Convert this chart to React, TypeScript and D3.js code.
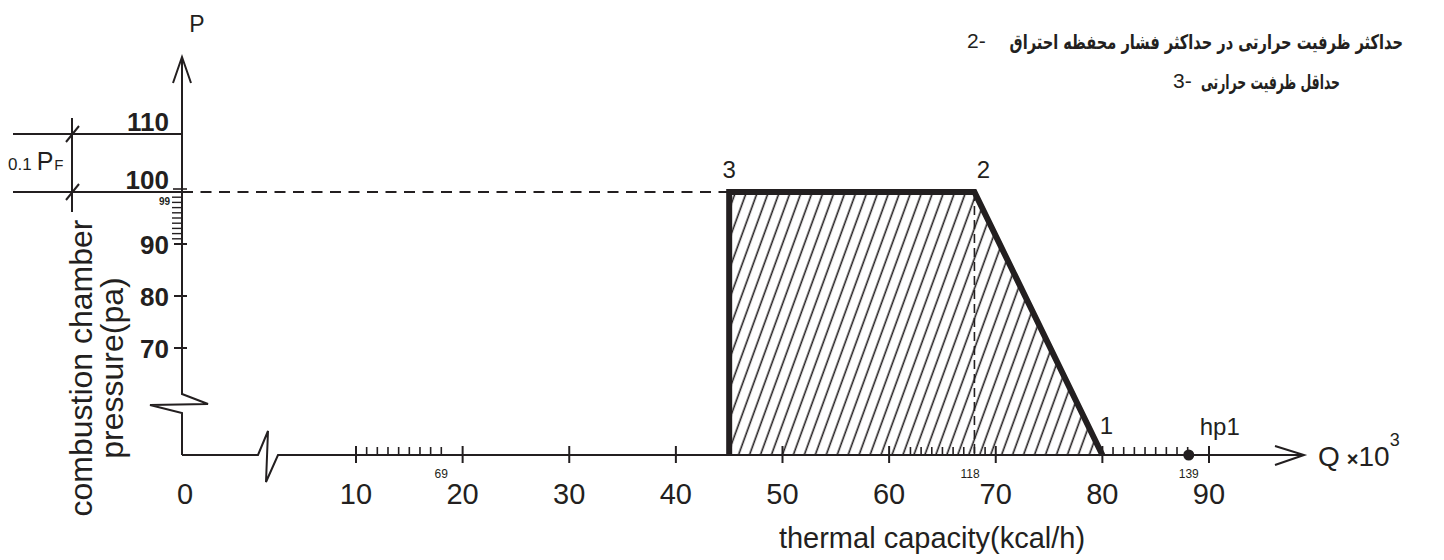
import React from "react";
import * as d3 from "d3";

// ---------- data ----------
const xMajorTicks = [10, 20, 30, 40, 50, 60, 70, 80, 90];
const xMinorTicks = [11, 12, 13, 14, 15, 16, 17, 18, 62, 63, 64, 65, 66, 67, 68, 69, 81, 82, 83, 84, 85, 86, 87, 88];
const xSmallLabels = [
  { q: 18, text: "69" },
  { q: 67.6, text: "118" },
  { q: 88.1, text: "139" },
];
const yMajorTicks = [70, 80, 90, 100, 110];
const yMinorTicks = [91, 92, 93, 94, 95, 96, 97, 98, 99];
const regionQ = [45, 45, 68, 80];
const regionP = [0, 100, 100, 0];
const cornerLabels = [
  { q: 45, p: 100, text: "3" },
  { q: 68, p: 100, text: "2" },
  { q: 80, p: 0, text: "1" },
];
const hp1 = { q: 88.1, p: 0, text: "hp1" };
const notes = [
  { num: "2-", text: "حداکثر ظرفیت حرارتی در حداکثر فشار محفظه احتراق" },
  { num: "3-", text: "حداقل ظرفیت حرارتی" },
];

const INK = "#231f20";
const FONT = "'Liberation Sans', Arial, Helvetica, sans-serif";

export default function App() {
  // broken axes: 0 sits at the axis origin, values continue after the break
  const x = d3.scaleLinear().domain([0, 10, 90]).range([182, 356, 1209]);
  const y = d3.scaleLinear().domain([0, 70, 100, 110]).range([455, 348, 192, 134]);

  const x0 = x(0);
  const yb = y(0);
  const regionPts: [number, number][] = regionQ.map((q, i) => [x(q), y(regionP[i])]);
  const line = d3.line();
  const regionPath = line(regionPts) + "Z";

  const yBreak = 394;
  const xBreak = 258;
  const arrowX = 1304;

  const noteLayout = [
    { numX: 967, textRight: 1403, y: 48, sx: 0.73 },
    { numX: 1173, textRight: 1340, y: 88, sx: 0.62 },
  ];

  return (
    <svg
      width={1444}
      height={560}
      style={{ position: "absolute", left: 0, top: 0, background: "#fff" }}
      fontFamily={FONT}
    >
      <defs>
        <pattern id="hatch" width={10.3} height={10} patternUnits="userSpaceOnUse" patternTransform="rotate(20)">
          <line x1={5} y1={-2} x2={5} y2={12} stroke={INK} strokeWidth={1.6} />
        </pattern>
      </defs>

      {/* hatched region */}
      <path d={regionPath} fill="url(#hatch)" stroke="none" />

      {/* dashed guides */}
      <line x1={x0} y1={y(100)} x2={x(45)} y2={y(100)} stroke={INK} strokeWidth={2} strokeDasharray="11 7.5" />
      <line x1={x(68)} y1={y(100)} x2={x(68)} y2={yb} stroke={INK} strokeWidth={1.6} strokeDasharray="9 5" />

      {/* y axis with break */}
      <path
        d={`M${x0},${57} L${x0},${yBreak} L${x0 + 26},${yBreak + 10} L${x0 - 32},${yBreak + 11} L${x0},${yBreak + 19} L${x0},${yb}`}
        fill="none"
        stroke={INK}
        strokeWidth={2}
        strokeLinejoin="miter"
      />
      <path d={`M${x0 - 9},${83} L${x0},${57} L${x0 + 9},${83}`} fill="none" stroke={INK} strokeWidth={2} />
      <text x={x0 + 15} y={32} fontSize={23} textAnchor="middle" fill={INK}>P</text>

      {/* x axis with break */}
      <path
        d={`M${x0},${yb} L${xBreak},${yb} L${xBreak + 10},${yb - 24} L${xBreak + 8},${yb + 27} L${xBreak + 20},${yb} L${arrowX},${yb}`}
        fill="none"
        stroke={INK}
        strokeWidth={2}
      />
      <path d={`M${arrowX - 29},${yb - 9} L${arrowX},${yb} L${arrowX - 29},${yb + 10}`} fill="none" stroke={INK} strokeWidth={2} />
      <text x={1318} y={466} fontSize={28} fill={INK}>
        Q
        <tspan dx={7} fontSize={20} fontWeight="bold">×</tspan>
        <tspan fontSize={28}>10</tspan>
        <tspan fontSize={18} dy={-20}>3</tspan>
      </text>

      {/* x ticks */}
      {xMajorTicks.map((v) => (
        <line key={"xt" + v} x1={x(v)} x2={x(v)} y1={yb - 9} y2={yb + 8} stroke={INK} strokeWidth={2} />
      ))}
      {xMinorTicks.map((v) => (
        <line key={"xm" + v} x1={x(v)} x2={x(v)} y1={yb - 8} y2={yb} stroke={INK} strokeWidth={1.6} />
      ))}
      {[0, ...xMajorTicks].map((v) => (
        <text key={"xl" + v} x={x(v) + (v === 0 ? 3 : 0)} y={504} fontSize={29} textAnchor="middle" fill={INK}>
          {v}
        </text>
      ))}
      {xSmallLabels.map((d) => (
        <text key={"xs" + d.text} x={x(d.q)} y={478} fontSize={12} textAnchor="middle" fill={INK}>
          {d.text}
        </text>
      ))}
      <text x={932} y={548} fontSize={29} textAnchor="middle" fill={INK}>thermal capacity(kcal/h)</text>

      {/* y ticks */}
      {yMajorTicks.filter((v) => v < 100).map((v) => (
        <line key={"yt" + v} x1={x0 - 8} x2={x0 + 5} y1={y(v)} y2={y(v)} stroke={INK} strokeWidth={2} />
      ))}
      <line x1={x0 - 9} x2={x0 + 5} y1={y(100) - 3} y2={y(100) - 3} stroke={INK} strokeWidth={1.6} />
      {yMinorTicks.map((v) => (
        <line key={"ym" + v} x1={x0 - 10} x2={x0} y1={y(v)} y2={y(v)} stroke={INK} strokeWidth={1.4} />
      ))}
      {yMajorTicks.map((v) => (
        <text
          key={"yl" + v}
          x={169}
          y={y(v) + (v >= 100 ? -3 : 10)}
          fontSize={26}
          fontWeight="bold"
          textAnchor="end"
          fill={INK}
        >
          {v}
        </text>
      ))}
      <text x={170} y={205} fontSize={10} fontWeight="bold" textAnchor="end" fill={INK}>99</text>

      {/* 0.1 PF dimension */}
      <line x1={13} x2={x0} y1={y(110)} y2={y(110)} stroke={INK} strokeWidth={2} />
      <line x1={13} x2={x0} y1={y(100)} y2={y(100)} stroke={INK} strokeWidth={2} />
      <line x1={72} x2={72} y1={118} y2={212} stroke={INK} strokeWidth={2} />
      <line x1={66} x2={79} y1={y(110) + 8} y2={y(110) - 8} stroke={INK} strokeWidth={2} />
      <line x1={66} x2={79} y1={y(100) + 8} y2={y(100) - 8} stroke={INK} strokeWidth={2} />
      <text x={8} y={170} fill={INK}>
        <tspan fontSize={17}>0.1</tspan>
        <tspan fontSize={25} dx={5}>P</tspan>
        <tspan fontSize={15} dx={1}>F</tspan>
      </text>

      {/* y axis title */}
      <g transform="translate(92,368) rotate(-90)">
        <text fontSize={32} textAnchor="middle" fill={INK}>combustion chamber</text>
      </g>
      <g transform="translate(123,368) rotate(-90)">
        <text fontSize={32} textAnchor="middle" fill={INK}>pressure(pa)</text>
      </g>

      {/* region outline */}
      <path d={line(regionPts) as string} fill="none" stroke={INK} strokeWidth={6} strokeLinejoin="miter" />

      {/* corner labels */}
      {cornerLabels.map((d) => (
        <text
          key={"cl" + d.text}
          x={x(d.q) + (d.text === "3" ? 0 : d.text === "2" ? 9 : 4)}
          y={d.p === 0 ? y(d.p) - 21 : y(d.p) - 14}
          fontSize={24}
          textAnchor="middle"
          fill={INK}
        >
          {d.text}
        </text>
      ))}

      {/* hp1 */}
      <circle cx={x(hp1.q)} cy={y(hp1.p)} r={5.5} fill={INK} />
      <text x={x(hp1.q) + 11} y={y(hp1.p) - 20} fontSize={24} fill={INK}>{hp1.text}</text>

      {/* notes */}
      {notes.map((n, i) => (
        <g key={"n" + i}>
          <text x={noteLayout[i].numX} y={noteLayout[i].y} fontSize={21} fill={INK}>{n.num}</text>
          <g transform={`translate(${noteLayout[i].textRight},${noteLayout[i].y + 1}) scale(${noteLayout[i].sx},1)`}>
            <text
              x={0}
              y={0}
              fontSize={20}
              fontWeight="bold"
              textAnchor="end"
              fontFamily="'DejaVu Sans', sans-serif"
              fill={INK}
            >
              {n.text}
            </text>
          </g>
        </g>
      ))}
    </svg>
  );
}
